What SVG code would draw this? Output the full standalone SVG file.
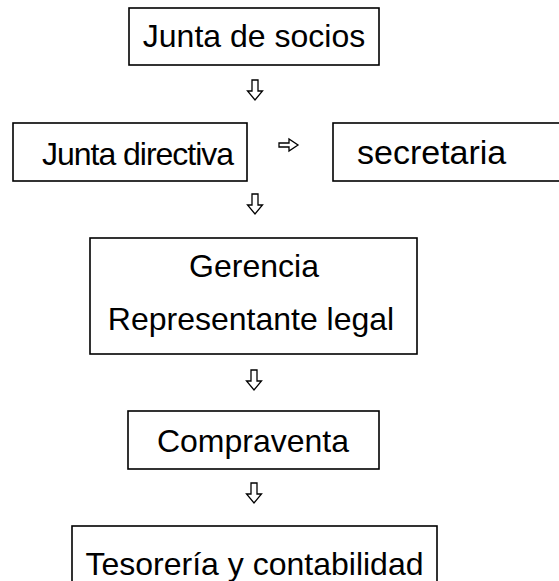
<svg xmlns="http://www.w3.org/2000/svg" width="559" height="581" viewBox="0 0 559 581">
<style>
.box{fill:#fff;stroke:#000;stroke-width:1.6}
.t{font-family:"Liberation Sans",Arial,sans-serif;font-size:32px;fill:#000}
.c{text-anchor:middle}
.arr{fill:#fff;stroke:#000;stroke-width:1.3;stroke-linejoin:miter}
</style>
<rect width="559" height="581" fill="#fff"/>
<g id="connectors">
<path class="arr" d="M252,80 h6 v11 h4.5 l-7.5,9 l-7.5,-9 h4.5 z"/>
<path class="arr" d="M279,143 h10 v-4 l9,6 l-9,6 v-4 h-10 z"/>
<path class="arr" d="M252,194 h6 v11 h4.5 l-7.5,9 l-7.5,-9 h4.5 z"/>
<path class="arr" d="M251,370 h6 v11 h4.5 l-7.5,9 l-7.5,-9 h4.5 z"/>
<path class="arr" d="M251,483 h6 v11 h4.5 l-7.5,9 l-7.5,-9 h4.5 z"/>
</g>
<g id="junta-socios">
<rect class="box" x="129" y="8" width="250" height="57"/>
<text class="t c" x="254" y="47">Junta de socios</text>
</g>
<g id="junta-directiva">
<rect class="box" x="13" y="123" width="234" height="58"/>
<text class="t" x="42" y="165" textLength="192" lengthAdjust="spacing">Junta directiva</text>
</g>
<g id="secretaria">
<rect class="box" x="333" y="123" width="240" height="58"/>
<text class="t" x="357" y="164" style="font-size:34px">secretaria</text>
</g>
<g id="gerencia">
<rect class="box" x="90" y="238" width="327" height="116"/>
<text class="t c" x="254" y="277">Gerencia</text>
<text class="t c" x="251" y="330">Representante legal</text>
</g>
<g id="compraventa">
<rect class="box" x="128" y="411" width="251" height="58"/>
<text class="t c" x="253" y="452">Compraventa</text>
</g>
<g id="tesoreria">
<rect class="box" x="72" y="526" width="365" height="80"/>
<text class="t c" x="254.5" y="575">Tesorería y contabilidad</text>
</g>
</svg>
